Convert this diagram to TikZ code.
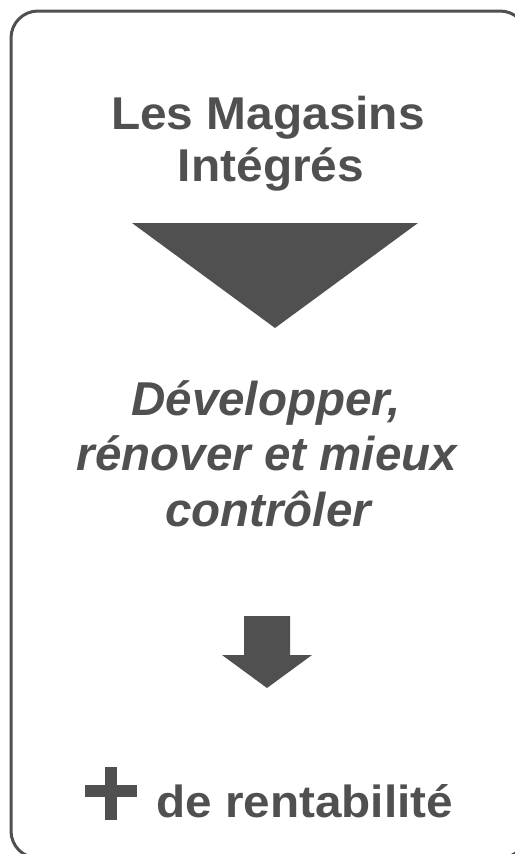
\documentclass[tikz,border=0pt]{standalone}
\usepackage{fontspec}
\setmainfont{Liberation Sans}
\newfontfamily\titlefont{Liberation Sans}[FakeStretch=1.04]
\newfontfamily\bottomfont{Liberation Sans}[FakeStretch=1.06]
\definecolor{ink}{HTML}{505050}
\tikzset{
  txt/.style={anchor=base, inner sep=0pt, text=ink},
  titletxt/.style={txt, font=\titlefont\bfseries\fontsize{46bp}{46bp}\selectfont},
  midtxt/.style={txt, font=\bfseries\itshape\fontsize{47.5bp}{47.5bp}\selectfont},
  bottxt/.style={txt, font=\bottomfont\bfseries\fontsize{45bp}{45bp}\selectfont},
  shapefill/.style={fill=ink, draw=none},
}
\begin{document}
\begin{tikzpicture}[x=1bp, y=-1bp]
\useasboundingbox (0,0) rectangle (515,854);
\begin{scope}
  \clip (0,0) rectangle (515,854);
  \draw[draw=ink, line width=3bp, rounded corners=27bp] (11,11) rectangle (527,858);
\end{scope}
% title
\node[titletxt] (t1) at (268,129) {Les Magasins};
\node[titletxt] (t2) at (271,181) {Intégrés};
% big triangle
\fill[shapefill] (132,223) -- (418,223) -- (275,328) -- cycle;
% middle text
\node[midtxt] (m1) at (266,415) {Développer,};
\node[midtxt] (m2) at (267,470) {rénover et mieux};
\node[midtxt] (m3) at (268,526) {contrôler};
% small arrow
\fill[shapefill] (244,616) -- (290,616) -- (290,655) -- (312,655) -- (267,688) -- (222,655) -- (244,655) -- cycle;
% plus
\fill[shapefill] (105,767) rectangle (117,820);
\fill[shapefill] (85,785) rectangle (137,797);
% bottom text
\node[bottxt, anchor=base west] (b1) at (156,817) {de rentabilité};
\end{tikzpicture}
\end{document}
